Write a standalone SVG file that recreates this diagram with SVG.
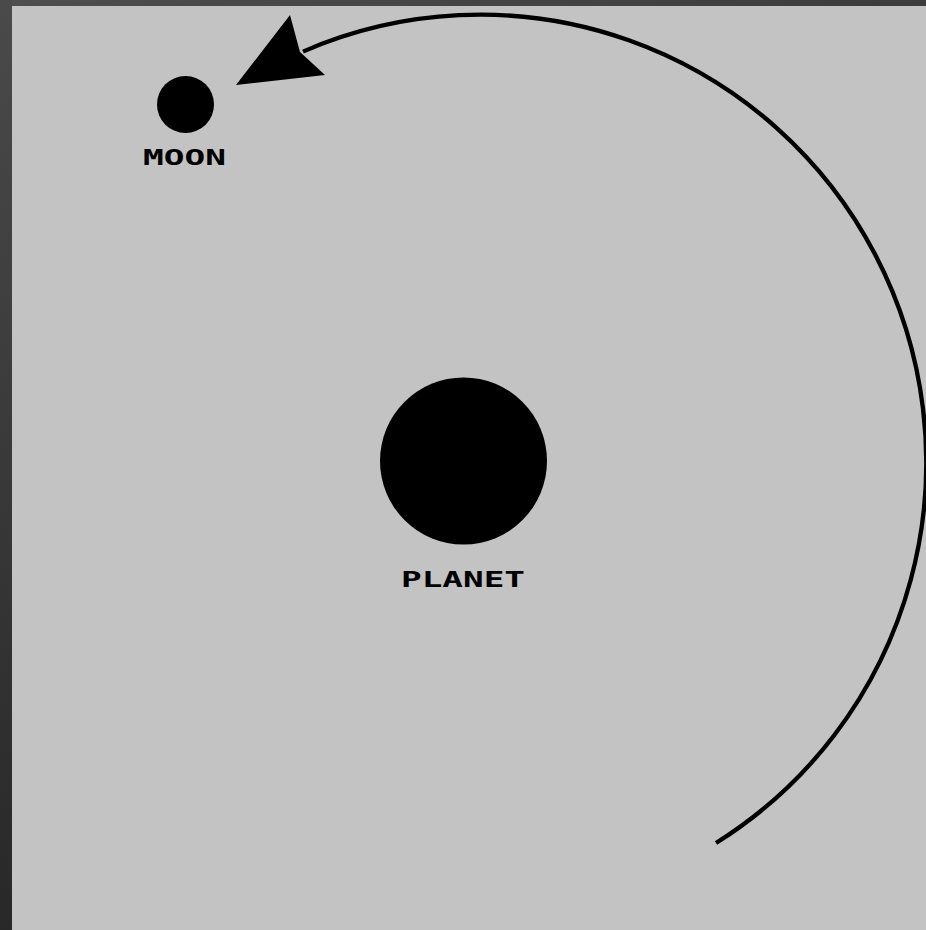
<svg xmlns="http://www.w3.org/2000/svg" width="926" height="930" viewBox="0 0 926 930">
<defs>
<linearGradient id="lg" x1="0" y1="0" x2="0" y2="1"><stop offset="0" stop-color="#4a4a4a"/><stop offset="1" stop-color="#282828"/></linearGradient>
<linearGradient id="tg" x1="0" y1="0" x2="1" y2="0"><stop offset="0" stop-color="#4e4e4e"/><stop offset="1" stop-color="#3c3c3c"/></linearGradient>
</defs>
<style>
.lbl{font-family:"DejaVu Sans Mono","Liberation Mono",monospace;font-weight:bold;fill:#000;text-anchor:start}
.body{fill:#000}
.conn{fill:none;stroke:#000;stroke-width:4.3}
</style>
<rect x="0" y="0" width="926" height="930" fill="#c3c3c3"/>
<rect x="0" y="0" width="926" height="6" fill="url(#tg)"/>
<rect x="0" y="0" width="12" height="930" fill="url(#lg)"/>
<g id="connectors">
<path class="conn" d="M 716 843 A 446 448 0 0 0 303 51.6"/>
<polygon points="236,85 290,15 300,52 325,75" fill="#000"/>
</g>
<g id="moon">
<circle class="body" cx="185.5" cy="104.5" r="28.5"/>
<text class="lbl" x="143" y="165" font-size="22" textLength="83" lengthAdjust="spacingAndGlyphs">MOON</text>
</g>
<g id="planet">
<circle class="body" cx="463.5" cy="461" r="83.5"/>
<text class="lbl" x="401" y="587" font-size="22" textLength="124" lengthAdjust="spacingAndGlyphs">PLANET</text>
</g>
</svg>
